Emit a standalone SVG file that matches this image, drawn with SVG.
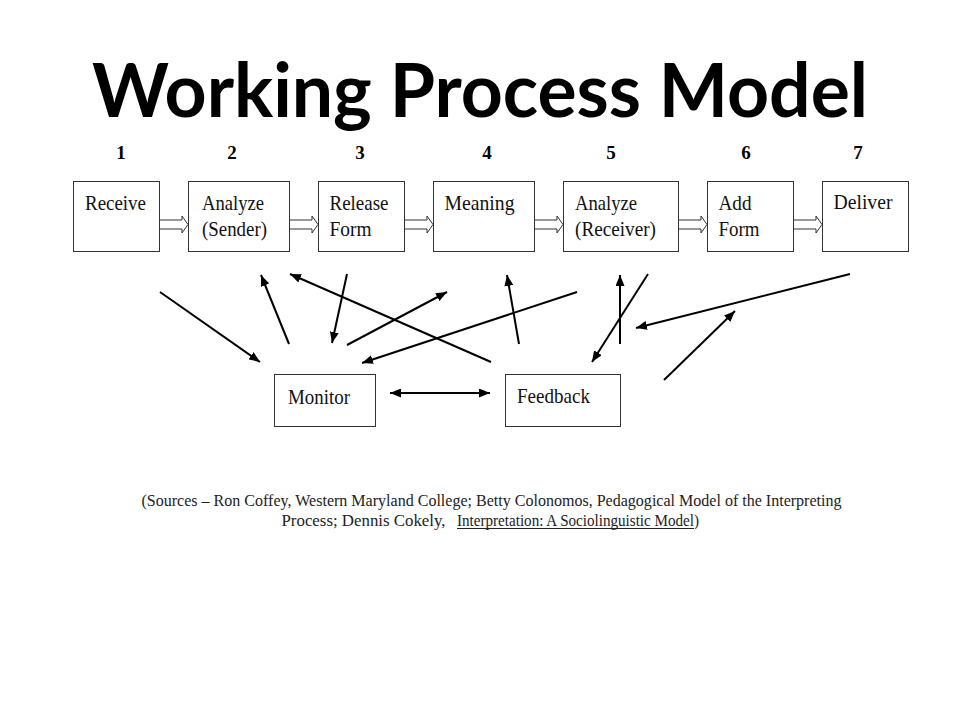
<svg xmlns="http://www.w3.org/2000/svg" width="960" height="720" viewBox="0 0 960 720">
<style>
.title{font-family:Lato,"Open Sans","Liberation Sans",sans-serif;font-weight:700;font-size:75px;fill:#000}
.num{font-family:"Liberation Serif","Times New Roman",serif;font-weight:700;font-size:19px;fill:#000;text-anchor:middle}
.box{fill:#fff;stroke:#333;stroke-width:1}
.lbl{font-family:"Liberation Serif","Times New Roman",serif;font-size:21px;fill:#111}
.src{font-family:"Liberation Serif","Times New Roman",serif;font-size:17px;fill:#222}
.conn line{stroke:#000;stroke-width:2;marker-end:url(#ah)}
.conn .hollow{fill:#fff;stroke:#333;stroke-width:1}
</style>
<defs>
<marker id="ah" viewBox="0 0 11 9" refX="11" refY="4.5" markerWidth="11" markerHeight="9" markerUnits="userSpaceOnUse" orient="auto-start-reverse">
<path d="M0,0 L11,4.5 L0,9 z" fill="#000"/>
</marker>
</defs>
<rect width="960" height="720" fill="#fff"/>
<text class="title" x="92" y="117" textLength="776" lengthAdjust="spacingAndGlyphs">Working Process Model</text>
<g id="numbers">
<text class="num" x="121" y="159">1</text>
<text class="num" x="232" y="159">2</text>
<text class="num" x="360" y="159">3</text>
<text class="num" x="487" y="159">4</text>
<text class="num" x="611" y="159">5</text>
<text class="num" x="746" y="159">6</text>
<text class="num" x="858" y="159">7</text>
</g>
<g id="receive"><rect class="box" x="73.5" y="181.5" width="86" height="70"/><text class="lbl" x="85" y="210" textLength="61" lengthAdjust="spacingAndGlyphs">Receive</text></g>
<g id="analyze-sender"><rect class="box" x="188.5" y="181.5" width="101" height="70"/><text class="lbl" x="202" y="210" textLength="62" lengthAdjust="spacingAndGlyphs">Analyze</text><text class="lbl" x="202" y="236" textLength="65" lengthAdjust="spacingAndGlyphs">(Sender)</text></g>
<g id="release-form"><rect class="box" x="318.5" y="181.5" width="86" height="70"/><text class="lbl" x="329.5" y="210" textLength="59" lengthAdjust="spacingAndGlyphs">Release</text><text class="lbl" x="329.5" y="236" textLength="42" lengthAdjust="spacingAndGlyphs">Form</text></g>
<g id="meaning"><rect class="box" x="433.5" y="181.5" width="101" height="70"/><text class="lbl" x="444.5" y="210" textLength="70" lengthAdjust="spacingAndGlyphs">Meaning</text></g>
<g id="analyze-receiver"><rect class="box" x="563.5" y="181.5" width="115" height="70"/><text class="lbl" x="575" y="210" textLength="62" lengthAdjust="spacingAndGlyphs">Analyze</text><text class="lbl" x="575" y="236" textLength="81" lengthAdjust="spacingAndGlyphs">(Receiver)</text></g>
<g id="add-form"><rect class="box" x="707.5" y="181.5" width="86" height="70"/><text class="lbl" x="718.5" y="210" textLength="33" lengthAdjust="spacingAndGlyphs">Add</text><text class="lbl" x="718.5" y="236" textLength="41" lengthAdjust="spacingAndGlyphs">Form</text></g>
<g id="deliver"><rect class="box" x="822.5" y="181.5" width="86" height="70"/><text class="lbl" x="833.5" y="209" textLength="59" lengthAdjust="spacingAndGlyphs">Deliver</text></g>
<g id="monitor"><rect class="box" x="274.5" y="374.5" width="101" height="52"/><text class="lbl" x="288" y="404" textLength="62" lengthAdjust="spacingAndGlyphs">Monitor</text></g>
<g id="feedback"><rect class="box" x="505.5" y="374.5" width="115" height="52"/><text class="lbl" x="517" y="403" textLength="73" lengthAdjust="spacingAndGlyphs">Feedback</text></g>
<g id="connectors" class="conn">
<polygon class="hollow" points="159.5,220 182,220 182,216 188,224.5 182,233 182,229 159.5,229"/>
<polygon class="hollow" points="289.5,220 312,220 312,216 318,224.5 312,233 312,229 289.5,229"/>
<polygon class="hollow" points="404.5,220 427,220 427,216 433,224.5 427,233 427,229 404.5,229"/>
<polygon class="hollow" points="534.5,220 557,220 557,216 563,224.5 557,233 557,229 534.5,229"/>
<polygon class="hollow" points="678.5,220 701,220 701,216 707,224.5 701,233 701,229 678.5,229"/>
<polygon class="hollow" points="793.5,220 816,220 816,216 822,224.5 816,233 816,229 793.5,229"/>
<line x1="160" y1="292" x2="260" y2="362"/>
<line x1="289" y1="344" x2="261" y2="275"/>
<line x1="491" y1="362" x2="290" y2="274"/>
<line x1="347" y1="274" x2="332" y2="343"/>
<line x1="347" y1="345" x2="447" y2="292"/>
<line x1="577" y1="292" x2="362" y2="363"/>
<line x1="519" y1="344" x2="507" y2="275"/>
<line x1="620" y1="344" x2="620" y2="275"/>
<line x1="648" y1="274" x2="592" y2="362"/>
<line x1="850" y1="274" x2="636" y2="328"/>
<line x1="664" y1="380" x2="735" y2="311"/>
<line x1="390" y1="393" x2="490" y2="393" style="marker-start:url(#ah)"/>
</g>
<g id="sources">
<text class="src" x="141.5" y="506" textLength="700" lengthAdjust="spacingAndGlyphs">(Sources – Ron Coffey, Western Maryland College; Betty Colonomos, Pedagogical Model of the Interpreting</text>
<text class="src" x="281.5" y="526" textLength="164" lengthAdjust="spacingAndGlyphs">Process; Dennis Cokely,</text>
<text class="src" x="457" y="526" textLength="242" lengthAdjust="spacingAndGlyphs">Interpretation: A Sociolinguistic Model)</text>
<line x1="457" y1="528.5" x2="694" y2="528.5" stroke="#222" stroke-width="1"/>
</g>
</svg>
